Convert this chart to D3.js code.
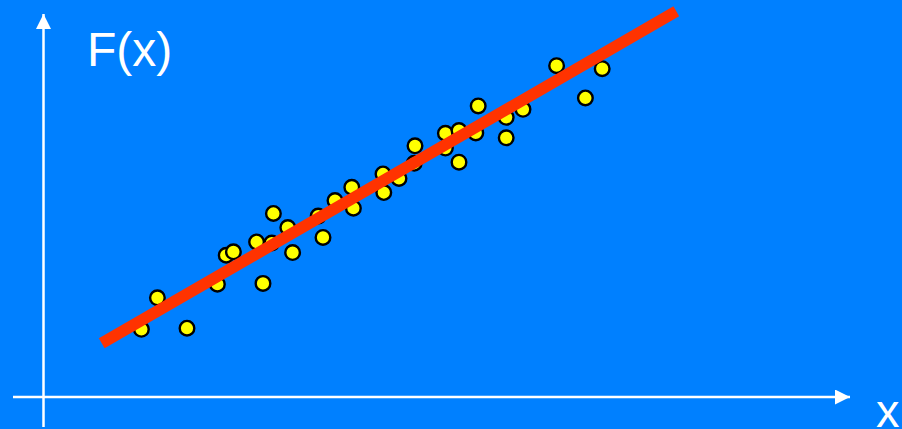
<!DOCTYPE html>
<html>
<head>
<meta charset="utf-8">
<script src="https://cdn.jsdelivr.net/npm/d3@7"></script>
<style>
  html, body { margin: 0; padding: 0; background: #0080FF; overflow: hidden; }
  svg { display: block; }
</style>
</head>
<body>
<svg id="chart" width="902" height="429"></svg>
<script>
// Scatter data (arbitrary units)
const xValues = [1.23, 1.43, 1.80, 2.18, 2.29, 2.38, 2.67, 2.75, 2.86, 2.88, 3.06, 3.12, 3.44, 3.50, 3.65, 3.86, 3.88, 4.25, 4.26, 4.45, 4.65, 4.64, 5.03, 5.03, 5.20, 5.20, 5.41, 5.44, 5.79, 5.79, 6.00, 6.42, 6.78, 6.99];
const yValues = [1.78, 2.61, 1.81, 2.97, 3.73, 3.82, 4.08, 2.99, 4.05, 4.83, 4.46, 3.80, 4.76, 4.20, 5.17, 5.52, 4.97, 5.87, 5.38, 5.75, 6.61, 6.15, 6.94, 6.55, 7.01, 6.18, 6.95, 7.66, 7.36, 6.82, 7.57, 8.72, 7.87, 8.64];
// Fitted line endpoints
const fitX = [0.734, 7.916];
const fitY = [1.413, 10.15];
// Axis labels
const yLabel = "F(x)";
const xLabel = "x";

const svg = d3.select("#chart");
const x = d3.scaleLinear().domain([0, 10]).range([43, 843]);
const y = d3.scaleLinear().domain([0, 10]).range([397, 17]);

svg.append("rect").attr("width", 902).attr("height", 429).attr("fill", "#0080FF");

const defs = svg.append("defs");
defs.append("marker")
  .attr("id", "arrow")
  .attr("viewBox", "0 0 15 15")
  .attr("refX", 15).attr("refY", 7.5)
  .attr("markerWidth", 15).attr("markerHeight", 15)
  .attr("markerUnits", "userSpaceOnUse")
  .attr("orient", "auto")
  .append("path").attr("d", "M0,0 L15,7.5 L0,15 Z").attr("fill", "#FFFFFF");

// Axes
svg.append("line")
  .attr("x1", x(0) + 0.5).attr("y1", 427)
  .attr("x2", x(0) + 0.5).attr("y2", 14)
  .attr("stroke", "#FFFFFF").attr("stroke-width", 2.5)
  .attr("marker-end", "url(#arrow)");
svg.append("line")
  .attr("x1", 13).attr("y1", y(0))
  .attr("x2", 850).attr("y2", y(0))
  .attr("stroke", "#FFFFFF").attr("stroke-width", 2.5)
  .attr("marker-end", "url(#arrow)");

// Points
svg.append("g").selectAll("circle")
  .data(xValues.map((v, i) => [v, yValues[i]]))
  .join("circle")
  .attr("cx", d => x(d[0]))
  .attr("cy", d => y(d[1]))
  .attr("r", 7.3)
  .attr("fill", "#FFFF00")
  .attr("stroke", "#000000")
  .attr("stroke-width", 2.4);

// Fit line
svg.append("path")
  .datum(fitX.map((v, i) => [v, fitY[i]]))
  .attr("d", d3.line().x(d => x(d[0])).y(d => y(d[1])))
  .attr("stroke", "#FF3300")
  .attr("stroke-width", 11.5)
  .attr("fill", "none");

// Labels
svg.append("text")
  .attr("x", 87).attr("y", 66)
  .attr("font-family", "'Liberation Sans', Arial, sans-serif")
  .attr("font-size", 48)
  .attr("fill", "#FFFFFF")
  .text(yLabel);
svg.append("text")
  .attr("x", 876).attr("y", 427)
  .attr("font-family", "'Liberation Sans', Arial, sans-serif")
  .attr("font-size", 47)
  .attr("fill", "#FFFFFF")
  .text(xLabel);
</script>
</body>
</html>
